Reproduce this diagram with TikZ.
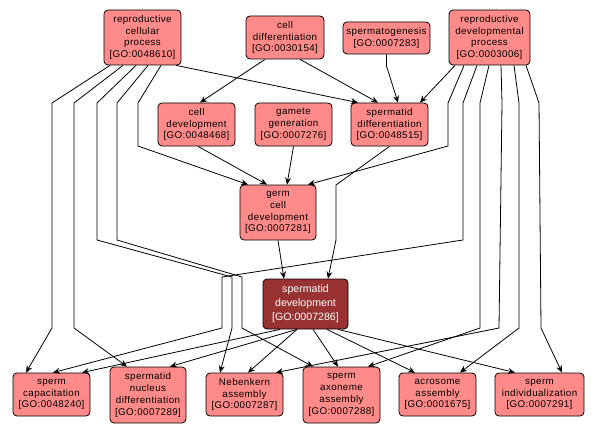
\documentclass[tikz,border=0pt]{standalone}
\usepackage{fontspec}
\setsansfont{Liberation Sans}
\newfontfamily\termfont[LetterSpace=4]{Liberation Sans}
\usetikzlibrary{arrows.meta}
\definecolor{termpink}{HTML}{FF8A8A}
\definecolor{termdark}{HTML}{993333}

\begin{document}
\begin{tikzpicture}[
    x=1pt, y=-1pt,
    >={Stealth[length=7pt, width=6pt]},
    line width=0.8pt,
    term/.style={draw, rounded corners=4pt, fill=termpink, align=center, inner sep=0pt,
        minimum width=77pt, minimum height=43pt, font=\termfont\fontsize{9.8}{11.8}\selectfont},
    hit/.style={term, fill=termdark, text=white, font=\sffamily\fontsize{10.6}{14}\selectfont}
]
\useasboundingbox (0,0) rectangle (599,433);

% top row
\node[term, minimum height=55pt] (rcp) at (142.5,37.5) {reproductive\\cellular\\process\\{[GO:0048610]}};
\node[term, minimum width=78pt] (celldiff) at (285,37.5) {cell\\differentiation\\{[GO:0030154]}};
\node[term, minimum width=87pt, minimum height=32pt] (spgen) at (386.5,38) {spermatogenesis\\{[GO:0007283]}};
\node[term, minimum width=81pt, minimum height=55pt] (repdev) at (489.5,37.5) {reproductive\\developmental\\process\\{[GO:0003006]}};

% second row
\node[term] (celldev) at (196.5,124.5) {cell\\development\\{[GO:0048468]}};
\node[term] (gamgen) at (293.5,124.5) {gamete\\generation\\{[GO:0007276]}};
\node[term] (sptdiff) at (389.5,124.5) {spermatid\\differentiation\\{[GO:0048515]}};

% middle
\node[term, minimum width=76pt, minimum height=55pt] (germdev) at (278,212.5) {germ\\cell\\development\\{[GO:0007281]}};
\node[hit, minimum width=85pt, minimum height=50pt] (sptdev) at (305.5,304) {spermatid\\development\\{[GO:0007286]}};

% bottom row
\node[term] (capac) at (51.5,394.5) {sperm\\capacitation\\{[GO:0048240]}};
\node[term, minimum width=76pt, minimum height=56pt] (nucdiff) at (148,395) {spermatid\\nucleus\\differentiation\\{[GO:0007289]}};
\node[term] (nebenk) at (244.5,394.5) {Nebenkern\\assembly\\{[GO:0007287]}};
\node[term, minimum height=56pt] (axon) at (341.5,395) {sperm\\axoneme\\assembly\\{[GO:0007288]}};
\node[term] (acros) at (437.5,394.5) {acrosome\\assembly\\{[GO:0001675]}};
\node[term, minimum width=89pt] (indiv) at (539.5,394.5) {sperm\\individualization\\{[GO:0007291]}};

% from reproductive cellular process
\draw[->] ([xshift=33.5pt]rcp.south) -- ([xshift=-31.5pt]sptdiff.north);
\draw[->] ([xshift=18.5pt]rcp.south) -- (138,103) -- (138,146) -- ([xshift=-30pt]germdev.north);
\draw[->] ([xshift=-32.5pt]rcp.south) -- (52,103) -- (52,328) -- ([xshift=-25.5pt]capac.north);
\draw[->] ([xshift=-19.5pt]rcp.south) -- (74,103) -- (74,328) -- ([xshift=-21pt]nucdiff.north);
\draw[->] ([xshift=-6.5pt]rcp.south) -- (97,103) -- (97,240) -- (232,277) -- (232,328) -- ([xshift=-24.5pt]nebenk.north);
\draw[->] ([xshift=5.5pt]rcp.south) -- (117,103) -- (117,240) -- (242,277) -- (242,328) -- ([xshift=-28.5pt]axon.north);

% from cell differentiation and spermatogenesis
\draw[->] ([xshift=-20pt]celldiff.south) -- ([xshift=3.5pt]celldev.north);
\draw[->] ([xshift=15pt]celldiff.south) -- ([xshift=-11.5pt]sptdiff.north);
\draw[->] (spgen.south) -- (386.5,66) -- ([xshift=8.5pt]sptdiff.north);

% from reproductive developmental process
\draw[->] ([xshift=-34.5pt]repdev.south) -- ([xshift=30.5pt]sptdiff.north);
\draw[->] ([xshift=-25.5pt]repdev.south) -- (448,103) -- (448,146) -- ([xshift=30pt]germdev.north);
\draw[->] ([xshift=-12.5pt]repdev.south) -- (463,103) -- (463,240) -- (222,277) -- (222,328) -- ([xshift=1.5pt]capac.north);
\draw[->] ([xshift=-0.5pt]repdev.south) -- (480,103) -- (480,328) -- ([xshift=26.5pt]axon.north);
\draw[->] ([xshift=11.5pt]repdev.south) -- (502,103) -- (499,328) -- ([xshift=31.5pt]nebenk.north);
\draw[->] ([xshift=24.5pt]repdev.south) -- (519,103) -- (519,328) -- ([xshift=22.5pt]acros.north);
\draw[->] ([xshift=36.5pt]repdev.south) -- (539,103) -- (541,328) -- ([xshift=22.5pt]indiv.north);

% into germ cell development
\draw[->] ([xshift=1.5pt]celldev.south) -- ([xshift=-11pt]germdev.north);
\draw[->] (gamgen.south) -- ([xshift=9pt]germdev.north);

% into spermatid development
\draw[->] (sptdiff.south) -- (336,185) -- (336,240) -- ([xshift=22.5pt]sptdev.north);
\draw[->] (germdev.south) -- ([xshift=-21.5pt]sptdev.north);

% out of spermatid development
\draw[->] ([xshift=-25.5pt]sptdev.south) -- ([xshift=30.5pt]capac.north);
\draw[->] ([xshift=-8.5pt]sptdev.south) -- ([xshift=22pt]nucdiff.north);
\draw[->] ([xshift=-8.5pt]sptdev.south) -- ([xshift=3.5pt]nebenk.north);
\draw[->] ([xshift=7.5pt]sptdev.south) -- ([xshift=-3.5pt]axon.north);
\draw[->] ([xshift=21.5pt]sptdev.south) -- ([xshift=-22.5pt]acros.north);
\draw[->] ([xshift=32.5pt]sptdev.south) -- ([xshift=-24.5pt]indiv.north);

\end{tikzpicture}
\end{document}
